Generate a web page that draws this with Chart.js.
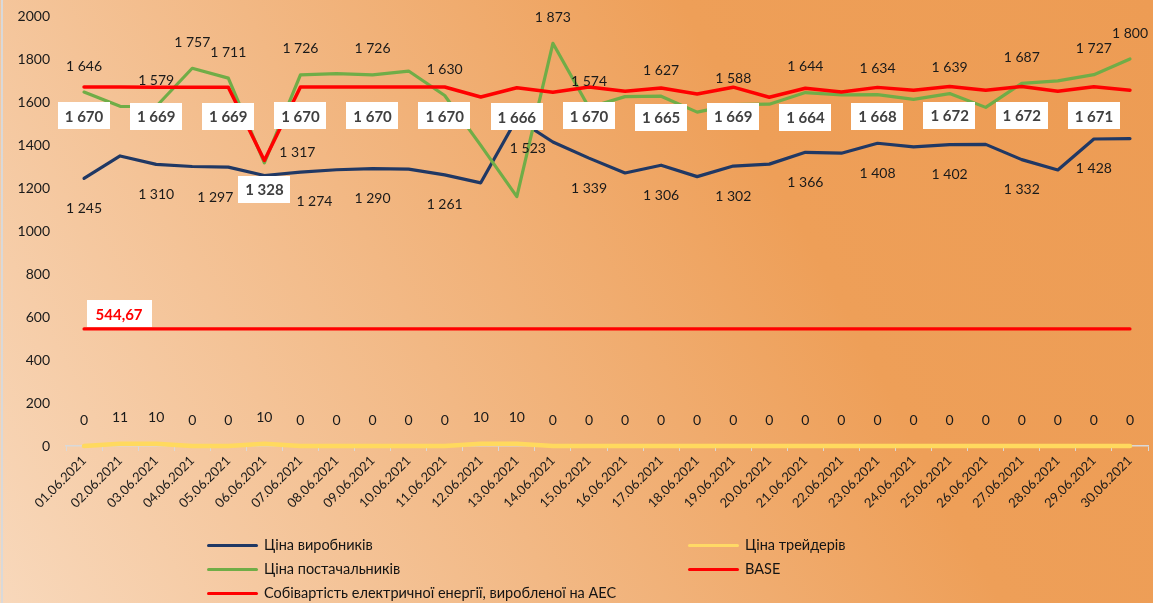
<!DOCTYPE html>
<html>
<head>
<meta charset="utf-8">
<script src="https://cdn.jsdelivr.net/npm/chart.js@4"></script>
<style>
  html, body { margin: 0; padding: 0; }
  body {
    width: 1153px; height: 603px; overflow: hidden; position: relative;
    background: linear-gradient(62deg, #f8d8bb 0%, #f2b884 38%, #ee9f58 68%, #ed9c54 100%);
    font-family: Lato, "Noto Sans", sans-serif;
  }
  #frame { position: absolute; left: 1px; top: 0; width: 2px; height: 603px; background: #d9d9d9; }
  #wrap { position: absolute; left: 0; top: 0; width: 1153px; height: 603px; }
  .leg { position: absolute; font-size: 14.5px; color: #141414; white-space: nowrap; line-height: 16px; }
  .leg i { position: absolute; top: 7px; height: 3px; border-radius: 2px; }
</style>
</head>
<body>
<div id="frame"></div>
<div id="wrap"><canvas id="chart" width="1153" height="603"></canvas></div>
<div id="legend"></div>
<script>
const dates = ['01.06.2021','02.06.2021','03.06.2021','04.06.2021','05.06.2021','06.06.2021','07.06.2021','08.06.2021','09.06.2021','10.06.2021',
  '11.06.2021','12.06.2021','13.06.2021','14.06.2021','15.06.2021','16.06.2021','17.06.2021','18.06.2021','19.06.2021','20.06.2021',
  '21.06.2021','22.06.2021','23.06.2021','24.06.2021','25.06.2021','26.06.2021','27.06.2021','28.06.2021','29.06.2021','30.06.2021'];

const producers = [1245, 1349, 1310, 1300, 1297, 1258, 1274, 1285, 1290, 1288,
  1261, 1224, 1523, 1414, 1339, 1270, 1306, 1253, 1302, 1311,
  1366, 1362, 1408, 1391, 1402, 1403, 1332, 1284, 1428, 1430];

const traders = [0, 11, 10, 0, 0, 10, 0, 0, 0, 0,
  0, 10, 10, 0, 0, 0, 0, 0, 0, 0,
  0, 0, 0, 0, 0, 0, 0, 0, 0, 0];

const suppliers = [1646, 1580, 1579, 1757, 1711, 1317, 1726, 1732, 1726, 1744,
  1630, 1398, 1160, 1873, 1574, 1625, 1627, 1553, 1588, 1590,
  1644, 1633, 1634, 1612, 1639, 1575, 1687, 1698, 1727, 1800];

const base = [1670, 1670, 1669, 1669, 1669, 1328, 1670, 1670, 1670, 1670,
  1670, 1623, 1666, 1645, 1670, 1650, 1665, 1637, 1669, 1622,
  1664, 1647, 1668, 1655, 1672, 1655, 1672, 1650, 1671, 1655];

const aesCost = [544.67, 544.67, 544.67, 544.67, 544.67, 544.67, 544.67, 544.67, 544.67, 544.67,
  544.67, 544.67, 544.67, 544.67, 544.67, 544.67, 544.67, 544.67, 544.67, 544.67,
  544.67, 544.67, 544.67, 544.67, 544.67, 544.67, 544.67, 544.67, 544.67, 544.67];

const yTicks = [0, 200, 400, 600, 800, 1000, 1200, 1400, 1600, 1800, 2000];

const names = ['Ціна виробників', 'Ціна трейдерів', 'Ціна постачальників', 'BASE', 'Собівартість електричної енергії, виробленої на АЕС'];
const colors = ['#203864', '#ffd966', '#70ad47', '#ff0000', '#ff0000'];

function fmt(v) {
  if (Number.isInteger(v)) return String(v).replace(/\B(?=(\d{3})+(?!\d))/g, ' ');
  return v.toFixed(2).replace('.', ',');
}

const odd = [0, 2, 4, 6, 8, 10, 12, 14, 16, 18, 20, 22, 24, 26, 28];

// draws the value labels the way the source chart places them
const valueLabels = {
  id: 'valueLabels',
  afterDatasetsDraw(chart) {
    const ctx = chart.ctx;
    chart.data.datasets.forEach((ds, di) => {
      const lab = ds.valueLabels;
      if (!lab) return;
      const meta = chart.getDatasetMeta(di);
      ctx.save();
      ctx.font = lab.font;
      ctx.textAlign = 'center';
      ctx.textBaseline = 'middle';
      lab.show.forEach(i => {
        const pt = meta.data[i];
        const nudge = (lab.nudge && lab.nudge[i]) || [0, 0];
        const x = pt.x + (lab.dx || 0) + nudge[0];
        const y = pt.y + lab.dy + nudge[1];
        const txt = fmt(ds.data[i]);
        if (lab.box) {
          const w = ctx.measureText(txt).width + lab.box * 2;
          ctx.fillStyle = '#ffffff';
          ctx.fillRect(Math.round(x - w / 2), Math.round(y - 13.5), Math.round(w), 27);
        }
        ctx.fillStyle = lab.color;
        ctx.fillText(txt, x, y + 1);
      });
      ctx.restore();
    });
  }
};

const numFont = '14px Lato, "Noto Sans", sans-serif';
const boxFont = 'bold 15px Lato, "Noto Sans", sans-serif';

new Chart(document.getElementById('chart'), {
  type: 'line',
  data: {
    labels: dates,
    datasets: [
      { label: names[0], data: producers, borderColor: colors[0], borderWidth: 3.2, order: 5,
        valueLabels: { show: odd, dy: 29, font: numFont, color: '#1a1a1a',
          nudge: { 4: [-13, 0], 6: [14, -1], 12: [11, 0] } } },
      { label: names[1], data: traders, borderColor: '#ffd95e', borderWidth: 4.5, order: 4, clip: false,
        valueLabels: { show: dates.map((_, i) => i), dy: -27, font: numFont, color: '#1a1a1a' } },
      { label: names[2], data: suppliers, borderColor: colors[2], borderWidth: 3.2, order: 3,
        valueLabels: { show: [0, 2, 3, 4, 5, 6, 8, 10, 13, 14, 16, 18, 20, 22, 24, 26, 28, 29], dy: -27,
          font: numFont, color: '#1a1a1a', nudge: { 5: [33, 16] } } },
      { label: names[3], data: base, borderColor: colors[3], borderWidth: 3.5, order: 2,
        valueLabels: { show: [0, 2, 4, 5, 6, 8, 10, 12, 14, 16, 18, 20, 22, 24, 26, 28], dy: 29,
          font: boxFont, color: '#404040', box: 7 } },
      { label: names[4], data: aesCost, borderColor: colors[4], borderWidth: 3.2, order: 1,
        valueLabels: { show: [0], dx: 35, dy: -15, font: boxFont, color: '#ff0000', box: 9 } }
    ]
  },
  options: {
    responsive: false,
    animation: false,
    layout: { padding: { top: 0, right: 5, bottom: 0, left: 0 } },
    elements: { point: { radius: 0 }, line: { tension: 0, borderCapStyle: 'round', borderJoinStyle: 'round' } },
    plugins: { legend: { display: false }, tooltip: { enabled: false } },
    scales: {
      x: {
        offset: true,
        grid: { display: true, drawOnChartArea: false, offset: true, tickLength: 5, color: '#d9d9d9' },
        border: { color: '#d9d9d9', width: 1.5 },
        ticks: { maxRotation: 45, minRotation: 45, autoSkip: false, color: '#1a1a1a',
          font: { family: 'Lato, "Noto Sans", sans-serif', size: 13 }, padding: 2 },
        afterFit(scale) { scale.height = 157; }
      },
      y: {
        min: 0, max: 2000,
        afterBuildTicks(scale) { scale.ticks = yTicks.map(v => ({ value: v })); },
        grid: { display: false, drawTicks: false },
        border: { display: false },
        ticks: { color: '#1a1a1a', padding: 16, font: { family: 'Lato, "Noto Sans", sans-serif', size: 14 },
          callback: v => String(v) },
        afterFit(scale) { scale.width = 66; scale.paddingTop = 16; scale.paddingBottom = 0; }
      }
    }
  },
  plugins: [valueLabels]
});

// two-column legend as in the source
const legendSpots = [[207, 537], [688, 537], [207, 561], [688, 561], [207, 585]];
const legendEl = document.getElementById('legend');
names.forEach((n, i) => {
  const [x, y] = legendSpots[i];
  const d = document.createElement('div');
  d.className = 'leg';
  d.style.left = x + 'px';
  d.style.top = y + 'px';
  d.style.paddingLeft = '57px';
  d.innerHTML = '<i style="left:0;width:51px;background:' + colors[i] + '"></i>' + n;
  legendEl.appendChild(d);
});
</script>
</body>
</html>
